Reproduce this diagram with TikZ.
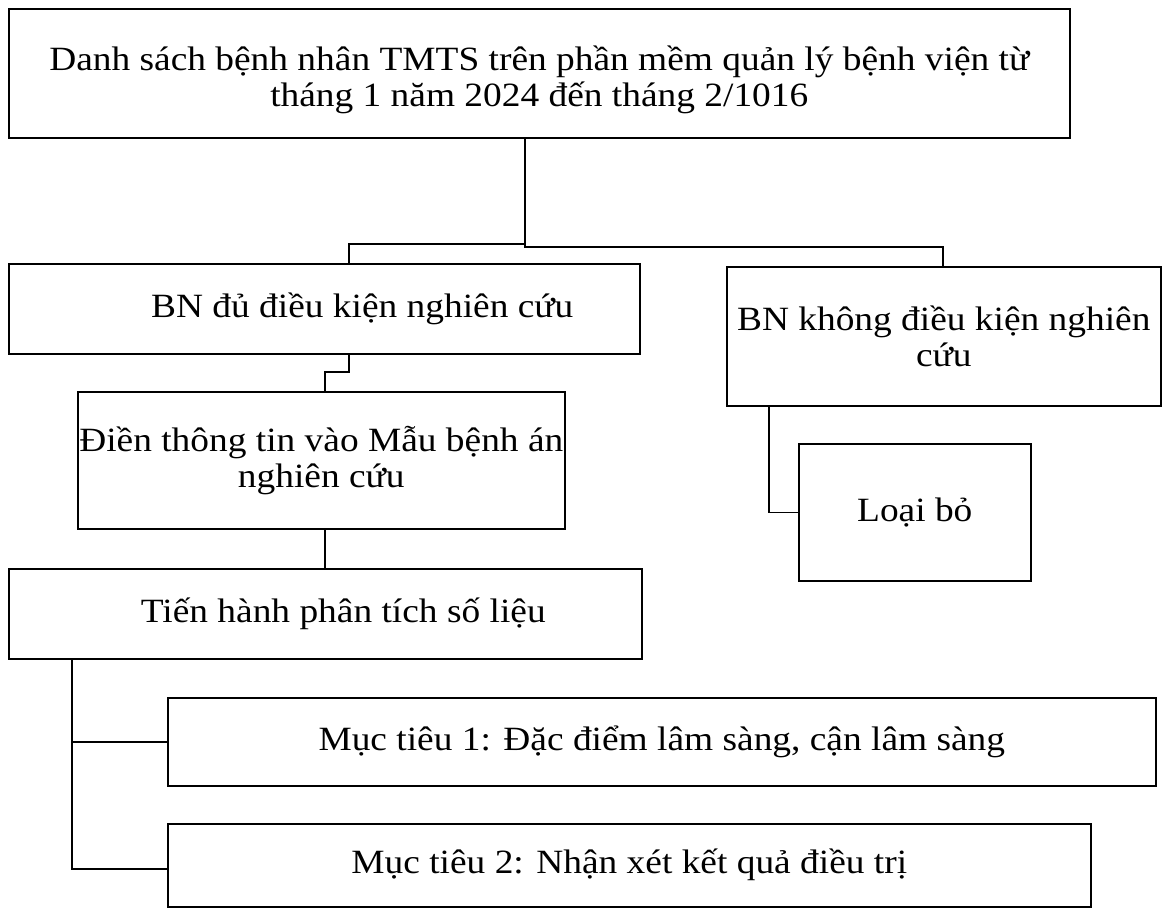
\documentclass[tikz,border=0pt]{standalone}
\usepackage{fontspec}
\setmainfont{Liberation Serif}[FakeStretch=1.1]
\usetikzlibrary{positioning,calc}
\tikzset{
  box/.style={draw, line width=1.6pt, align=center, inner sep=0pt, anchor=north west,
    font=\fontsize{34}{36}\selectfont},
  link/.style={draw, line width=1.6pt},
}

\begin{document}
\begin{tikzpicture}[x=1pt,y=-1pt]
\useasboundingbox (0,0) rectangle (1163,913);
% boxes
\node[box, minimum width=1061pt, minimum height=129pt] (list) at (8,8)
  {\rule{0pt}{38pt}Danh sách bệnh nhân TMTS trên phần mềm quản lý bệnh viện từ\\tháng 1 năm 2024 đến tháng 2/1016};
\node[box, minimum width=631pt, minimum height=90pt] (ok) at (8,263)
  {\hspace*{76pt}BN đủ điều kiện nghiên cứu};
\node[box, minimum width=434pt, minimum height=139pt] (excl) at (726,266)
  {BN không điều kiện nghiên\\cứu};
\node[box, minimum width=487pt, minimum height=137pt] (form) at (77,391)
  {Điền thông tin vào Mẫu bệnh án\\nghiên cứu};
\node[box, minimum width=232pt, minimum height=137pt] (drop) at (798,443) {Loại bỏ};
\node[box, minimum width=633pt, minimum height=90pt] (anal) at (8,568)
  {\hspace*{36pt}Tiến hành phân tích số liệu};
\node[box, minimum width=988pt, minimum height=88pt] (obj1) at (167,697)
  {Mục tiêu 1: Đặc điểm lâm sàng, cận lâm sàng};
\node[box, minimum width=923pt, minimum height=83pt] (obj2) at (167,823)
  {Mục tiêu 2: Nhận xét kết quả điều trị};
% bends
\coordinate (hub) at (525,245);
\coordinate (hubL) at (349,244);
\coordinate (hubR) at (943,247);
\coordinate (jogA) at (349,372);
\coordinate (jogB) at (325,372);
\coordinate (dropjog) at (769,512);
\coordinate (spine) at (72,869);
% connectors
\draw[link] (hub |- list.south) -- (hub |- hubL) -- (hubL) -- (hubL |- ok.north);
\draw[link] (hub |- hubL) -- (hub |- hubR) -- (hubR) -- (hubR |- excl.north);
\draw[link] (jogA |- ok.south) -- (jogA) -- (jogB) -- (jogB |- form.north);
\draw[link] (jogB |- form.south) -- (jogB |- anal.north);
\draw[link] (dropjog |- excl.south) |- (drop.west);
\draw[link] (spine |- anal.south) -- (spine) -- (spine -| obj2.west);
\draw[link] (spine |- obj1.west) -- (obj1.west);
\end{tikzpicture}
\end{document}
